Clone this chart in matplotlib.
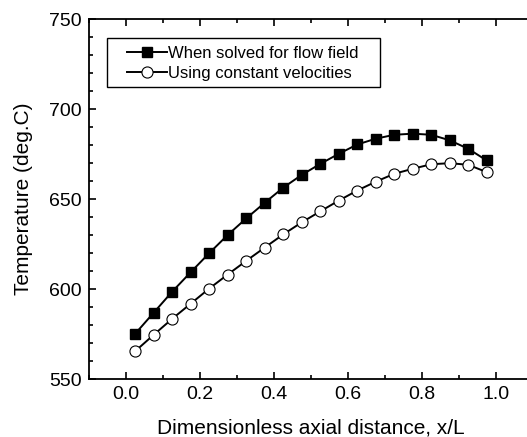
import matplotlib
matplotlib.use("Agg")
import matplotlib.pyplot as plt
import numpy as np
from matplotlib.ticker import MultipleLocator
from matplotlib.patches import Rectangle

plt.rcParams['font.family'] = ['Liberation Sans', 'DejaVu Sans']

# Data
x_over_L = np.arange(0.025, 1.0, 0.05)
T_flow = [575.2, 586.9, 598.6, 609.4, 620.0, 630.1, 639.3, 648.0, 656.4, 663.5,
          669.6, 675.2, 680.4, 683.6, 685.8, 686.4, 685.8, 682.7, 678.0, 671.5]
T_const = [565.5, 574.6, 583.5, 591.9, 600.3, 608.1, 615.7, 623.1, 630.4, 637.1,
           643.2, 649.2, 654.8, 659.7, 664.1, 666.9, 669.4, 670.0, 669.1, 665.0]
labels = ['When solved for flow field', 'Using constant velocities']

fig = plt.figure(figsize=(5.27, 4.37), dpi=100)
ax = fig.add_axes([89/527, 1 - 379/437, (533 - 89)/527, (379 - 19.3)/437])

ax.plot(x_over_L, T_flow, color='black', lw=1.4, marker='s', ms=7,
        mfc='black', mec='black', label=labels[0])
ax.plot(x_over_L, T_const, color='black', lw=1.4, marker='o', ms=8,
        mfc='white', mec='black', mew=0.8, label=labels[1])

ax.set_xlim(-0.1, 1.1)
ax.set_ylim(550, 750)
ax.xaxis.set_minor_locator(MultipleLocator(0.1))
ax.yaxis.set_major_locator(MultipleLocator(50))
ax.yaxis.set_minor_locator(MultipleLocator(10))
ax.set_xticks(np.arange(0, 1.01, 0.2))
ax.set_xticklabels(['0.0', '0.2', '0.4', '0.6', '0.8', '1.0'])

ax.tick_params(which='both', direction='in', top=True, right=False,
               labelsize=14, width=1.2)
ax.tick_params(which='major', length=5, pad=5)
ax.tick_params(which='minor', length=3)
for s in ax.spines.values():
    s.set_linewidth(1.3)

ax.set_xlabel('Dimensionless axial distance, x/L', fontsize=15, labelpad=11)
ax.set_ylabel('Temperature (deg.C)', fontsize=15, labelpad=12)

# legend frame drawn separately for its wide side margins
ax.add_patch(Rectangle((0.0405, 0.812), 0.615, 0.136, transform=ax.transAxes,
                       fill=False, edgecolor='black', lw=1.0, zorder=4))
leg = ax.legend(loc='upper left', bbox_to_anchor=(0.085, 0.925), fontsize=12,
                frameon=False, handlelength=2.4, handletextpad=0.1,
                borderpad=0, labelspacing=0.3, borderaxespad=0)

fig.savefig('out.png', dpi=100)
